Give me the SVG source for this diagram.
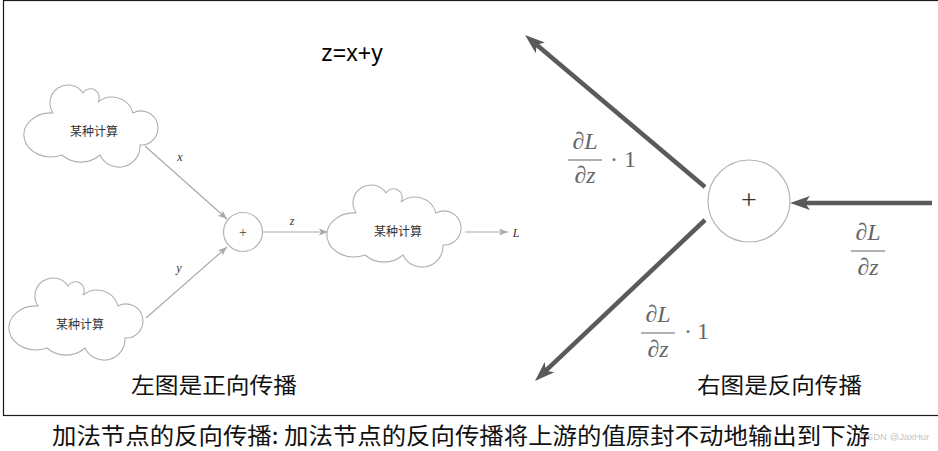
<svg xmlns="http://www.w3.org/2000/svg" xmlns:xlink="http://www.w3.org/1999/xlink" width="938" height="451" viewBox="0 0 938 451">
  <style>
    .cloud { fill: #ffffff; stroke: #b0b0b0; stroke-width: 1.1; }
    .ctext { font-family: "Noto Sans CJK SC", "Noto Sans", sans-serif; font-size: 12px; fill: #333; text-anchor: middle; }
    .var { font-family: "Liberation Serif", "DejaVu Serif", serif; font-style: italic; font-size: 12px; fill: #333; text-anchor: middle; }
    .thin { stroke: #aaaaaa; stroke-width: 1.2; fill: none; }
    .thick { stroke: #5a5a5a; stroke-width: 4.5; fill: none; }
    .node { fill: #ffffff; stroke: #b5b5b5; stroke-width: 1.2; }
    .frac { font-family: "Liberation Serif", "DejaVu Serif", serif; font-size: 24px; fill: #666; text-anchor: middle; }
    .bar { stroke: #666; stroke-width: 1.1; }
    .cap { font-family: "Noto Sans CJK SC", "Noto Sans", sans-serif; fill: #111; }
  </style>
  <defs>
    <path id="cloud" class="cloud" d="M -39,-15 A 17 17 0 1 1 -9,-35 A 7 7 0 1 1 6,-26 A 22 22 0 0 1 41,-15 A 17 17 0 1 1 48,17 A 21 21 0 0 1 8,27 A 29 29 0 0 1 -30,27 A 27 22 0 1 1 -39,-15 Z"/>
    <marker id="ah-thin" markerUnits="userSpaceOnUse" markerWidth="12" markerHeight="10" viewBox="0 -5 12 10" refX="9" refY="0" orient="auto">
      <path d="M0,-3.5 L9,0 L0,3.5 L2,0 Z" fill="#aaaaaa"/>
    </marker>
    <marker id="ah-thick" markerUnits="userSpaceOnUse" markerWidth="22" markerHeight="16" viewBox="0 -8 22 16" refX="8" refY="0" orient="auto">
      <path d="M0,-7 L20,0 L0,7 L5,0 Z" fill="#5a5a5a"/>
    </marker>
  </defs>

  <rect x="3.5" y="0.5" width="940" height="415" fill="#ffffff" stroke="#1a1a1a" stroke-width="1.2"/>

  <text x="352" y="61" font-family="Liberation Sans, Arial, sans-serif" font-size="23" fill="#000" text-anchor="middle">z=x+y</text>

  <!-- left: forward pass -->
  <g id="connectors-left">
    <line class="thin" x1="145" y1="146" x2="227" y2="219" marker-end="url(#ah-thin)"/>
    <line class="thin" x1="146" y1="318" x2="227" y2="247" marker-end="url(#ah-thin)"/>
    <line class="thin" x1="263" y1="232" x2="328" y2="232" marker-end="url(#ah-thin)"/>
    <line class="thin" x1="465" y1="232" x2="508" y2="232" marker-end="url(#ah-thin)"/>
    <text class="var" x="180" y="161">x</text>
    <text class="var" x="179" y="272">y</text>
    <text class="var" x="292" y="225">z</text>
    <text class="var" x="516" y="237" font-size="13">L</text>
  </g>

  <g id="cloud1" transform="translate(92,128)">
    <use xlink:href="#cloud" href="#cloud"/>
    <text class="ctext" x="2" y="8">某种计算</text>
  </g>
  <g id="cloud2" transform="translate(77,321)">
    <use xlink:href="#cloud" href="#cloud"/>
    <text class="ctext" x="3" y="8">某种计算</text>
  </g>
  <g id="cloud3" transform="translate(395,228)">
    <use xlink:href="#cloud" href="#cloud"/>
    <text class="ctext" x="3" y="8">某种计算</text>
  </g>
  <g id="plus-left">
    <circle class="node" cx="243" cy="232" r="19.5"/>
    <text x="243" y="237" font-family="Liberation Serif, serif" font-size="14" fill="#444" text-anchor="middle">+</text>
  </g>

  <!-- right: backward pass -->
  <g id="connectors-right">
    <line class="thick" x1="932" y1="203" x2="802" y2="203" marker-end="url(#ah-thick)"/>
    <line class="thick" x1="705" y1="187" x2="534.2" y2="42.7" marker-end="url(#ah-thick)"/>
    <line class="thick" x1="705" y1="220" x2="543.7" y2="372.7" marker-end="url(#ah-thick)"/>
  </g>
  <g id="plus-right">
    <circle class="node" cx="749" cy="201" r="41"/>
    <text x="749" y="209" font-family="Liberation Serif, serif" font-size="28" fill="#333" text-anchor="middle">+</text>
  </g>

  <g id="grad-up">
    <text class="frac" x="585" y="149">∂<tspan font-style="italic">L</tspan></text>
    <line class="bar" x1="568" y1="160" x2="602" y2="160"/>
    <text class="frac" x="585" y="183">∂<tspan font-style="italic">z</tspan></text>
    <text class="frac" x="614" y="167">·</text>
    <text class="frac" x="630" y="167">1</text>
  </g>
  <g id="grad-in">
    <text class="frac" x="868" y="240">∂<tspan font-style="italic">L</tspan></text>
    <line class="bar" x1="851" y1="251" x2="885" y2="251"/>
    <text class="frac" x="868" y="275">∂<tspan font-style="italic">z</tspan></text>
  </g>
  <g id="grad-down">
    <text class="frac" x="658" y="322">∂<tspan font-style="italic">L</tspan></text>
    <line class="bar" x1="641" y1="333" x2="675" y2="333"/>
    <text class="frac" x="658" y="357">∂<tspan font-style="italic">z</tspan></text>
    <text class="frac" x="688" y="339">·</text>
    <text class="frac" x="703" y="339">1</text>
  </g>

  <text class="cap" x="131" y="393" font-size="22" textLength="166" lengthAdjust="spacingAndGlyphs">左图是正向传播</text>
  <text class="cap" x="697" y="393" font-size="22" textLength="165" lengthAdjust="spacingAndGlyphs">右图是反向传播</text>

  <text x="860" y="440" font-family="Liberation Sans, Arial, sans-serif" font-size="9.5" fill="#c4c4c4">CSDN @JaxHur</text>
  <text class="cap" x="52" y="444" font-size="23" textLength="818" lengthAdjust="spacingAndGlyphs">加法节点的反向传播: 加法节点的反向传播将上游的值原封不动地输出到下游</text>
</svg>
